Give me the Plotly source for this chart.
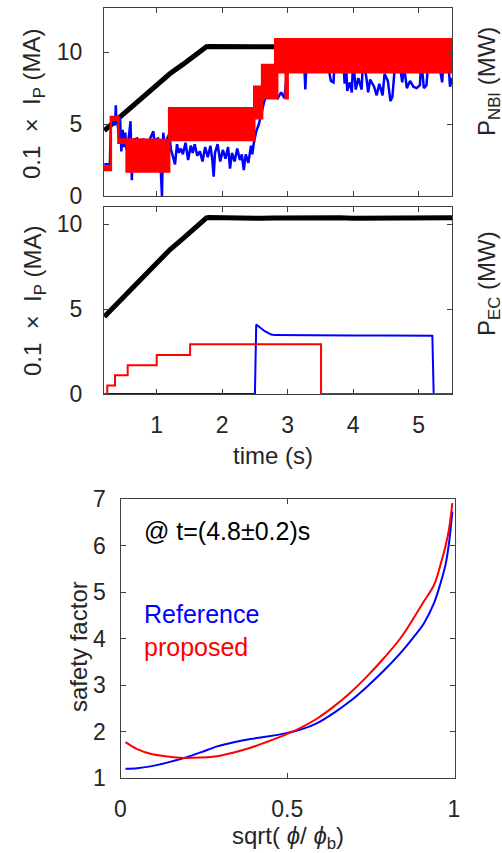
import plotly.graph_objects as go

W, H = 502, 853

# ---------------- data ----------------
# plasma current (0.1 x Ip in MA), shared by both time panels
ip_t = [0.2, 0.4, 0.6, 0.8, 1.0, 1.2, 1.4, 1.6, 1.76, 1.8, 2.0, 2.2, 2.4, 2.6, 2.8, 3.0,
        3.2, 3.4, 3.6, 3.8, 4.0, 4.2, 4.4, 4.6, 4.8, 5.0, 5.2, 5.4, 5.51]
ip_v = [4.55, 5.35, 6.15, 6.9, 7.8, 8.5, 9.15, 9.8, 10.38, 10.4, 10.38, 10.35, 10.33, 10.35,
        10.37, 10.38, 10.36, 10.38, 10.42, 10.38, 10.36, 10.37, 10.35, 10.36, 10.37, 10.36,
        10.40, 10.42, 10.38]

# NBI power, reference (blue)
nbi_ref_t = [0.20, 0.285, 0.30, 0.34, 0.365, 0.375, 0.385, 0.40, 0.42, 0.44, 0.46, 0.48, 0.50,
             0.52, 0.54, 0.57, 0.60, 0.61, 0.62, 0.64, 0.70, 0.75, 0.80, 0.85, 0.90, 0.95, 0.96,
             1.02, 1.06, 1.08, 1.10, 1.13, 1.16, 1.19, 1.22, 1.25, 1.28, 1.31, 1.34, 1.37, 1.40,
             1.44, 1.48, 1.52, 1.55, 1.58, 1.62, 1.66, 1.70, 1.74, 1.78, 1.82, 1.85, 1.87, 1.89,
             1.93, 1.97, 2.01, 2.05, 2.09, 2.12, 2.15, 2.19, 2.23, 2.27, 2.30, 2.33, 2.36, 2.40,
             2.44, 2.46, 2.48, 2.52, 2.56, 2.59, 2.62, 2.66, 2.72, 2.78, 2.81, 2.85, 2.90, 2.95,
             3.00, 3.05, 3.25, 3.27, 3.29, 3.60, 3.66, 3.70, 3.72, 3.85, 3.87, 3.89, 3.91, 3.95,
             3.98, 4.00, 4.04, 4.08, 4.13, 4.15, 4.20, 4.23, 4.26, 4.32, 4.36, 4.40, 4.45, 4.48,
             4.53, 4.57, 4.60, 4.63, 4.70, 4.75, 4.78, 4.82, 4.87, 4.92, 4.97, 5.02, 5.04, 5.08,
             5.12, 5.15, 5.30, 5.36, 5.38, 5.45, 5.48, 5.51]
nbi_ref_v = [2.2, 2.2, 4.9, 5.3, 4.9, 6.3, 5.0, 5.4, 4.0, 5.5, 3.1, 4.6, 3.4,
             4.4, 3.2, 3.9, 5.2, 2.0, 1.1, 3.9, 4.0, 3.0, 4.0, 2.5, 4.0, 4.5, 3.9,
             4.0, 2.0, 0.0, 4.4, 3.0, 4.0, 4.3, 3.2, 2.7, 2.2, 3.6, 3.0, 3.3, 2.9,
             3.7, 2.5, 3.5, 3.0, 3.6, 2.8, 3.1, 2.4, 3.4, 2.7, 3.5, 2.5, 1.35, 3.0,
             3.6, 2.4, 3.2, 2.6, 3.4, 1.9, 3.0, 2.4, 3.3, 2.5, 2.9, 1.8, 2.9, 2.3,
             3.5, 2.9, 3.6, 4.5, 5.0, 5.6, 6.3, 6.9, 7.0, 6.9, 7.0, 6.8, 7.2, 6.8,
             9.0, 9.5, 9.5, 7.4, 9.5, 9.5, 8.0, 7.9, 9.5, 9.5, 7.8, 9.5, 7.3, 7.9,
             7.2, 9.5, 7.4, 8.2, 7.4, 9.5, 8.3, 7.2, 8.1, 7.6, 7.0, 7.8, 7.0, 8.5,
             8.0, 6.6, 6.9, 8.6, 9.5, 7.9, 9.0, 7.5, 8.0, 7.6, 7.5, 7.7, 9.5, 7.5,
             7.7, 9.5, 9.5, 7.9, 9.5, 9.5, 7.6, 8.2]

# NBI power, proposed (red): fast modulation between a low and a high level
nbi_prop_edges = [0.195, 0.30, 0.415, 0.54, 1.19, 2.49, 2.61, 2.81, 2.84, 2.97, 3.00, 5.51]
nbi_prop_low = [1.8, 5.3, 3.7, 1.7, 3.9, 5.4, 6.8, 6.8, 8.6, 6.8, 8.6]
nbi_prop_high = [2.05, 5.5, 3.95, 3.9, 6.1, 7.6, 9.1, 10.9, 10.9, 10.9, 10.9]

# EC power
ec_ref_t = [0.2, 2.50, 2.52, 2.55, 2.60, 2.65, 2.70, 2.75, 2.80, 3.0, 3.5, 4.0, 4.5, 5.0, 5.21, 5.23, 5.51]
ec_ref_v = [0, 0, 4.1, 4.0, 3.85, 3.7, 3.6, 3.5, 3.47, 3.46, 3.47, 3.45, 3.45, 3.45, 3.44, 0, 0]
ec_prop_t = [0.2, 0.245, 0.363, 0.557, 1.0, 1.51, 3.51, 5.51]
ec_prop_v = [0, 0.5, 1.1, 1.7, 2.3, 2.93, 0, 0]

# safety factor profiles
rho = [0.015, 0.05, 0.09, 0.14, 0.19, 0.24, 0.29, 0.34, 0.39, 0.44, 0.50, 0.54, 0.59, 0.64, 0.69,
       0.74, 0.79, 0.84, 0.88, 0.91, 0.94, 0.96, 0.975, 0.985, 0.995]
q_ref = [1.2, 1.21, 1.25, 1.33, 1.43, 1.55, 1.68, 1.77, 1.84, 1.89, 1.97, 2.04, 2.18, 2.4, 2.66,
         2.97, 3.31, 3.69, 4.04, 4.33, 4.76, 5.2, 5.6, 6.05, 6.73]
q_prop = [1.77, 1.62, 1.52, 1.46, 1.43, 1.44, 1.47, 1.55, 1.65, 1.78, 1.95, 2.08, 2.28, 2.54, 2.84,
          3.19, 3.58, 4.01, 4.45, 4.8, 5.15, 5.6, 6.0, 6.35, 6.91]

# ---------------- figure ----------------
BLUE, RED, BLACK = "#0000FF", "#FF0000", "#000000"
AX = "#404040"
TXT = "#262626"
FONT = "Liberation Sans, Arial, Helvetica, sans-serif"

def px_x(p):
    return p / W

def px_y(p):
    return 1 - p / H

fig = go.Figure()

# top panel
fig.add_trace(go.Scatter(x=ip_t, y=ip_v, mode="lines", line=dict(color=BLACK, width=5),
                         xaxis="x", yaxis="y", showlegend=False))
fig.add_trace(go.Scatter(x=nbi_ref_t, y=nbi_ref_v, mode="lines", line=dict(color=BLUE, width=2.5),
                         xaxis="x", yaxis="y", showlegend=False))
px_, py_ = [], []
for i in range(len(nbi_prop_low)):
    px_ += [nbi_prop_edges[i], nbi_prop_edges[i + 1]]
    py_ += [nbi_prop_high[i], nbi_prop_high[i]]
for i in reversed(range(len(nbi_prop_low))):
    px_ += [nbi_prop_edges[i + 1], nbi_prop_edges[i]]
    py_ += [nbi_prop_low[i], nbi_prop_low[i]]
fig.add_trace(go.Scatter(x=px_, y=py_, mode="lines", fill="toself", fillcolor=RED,
                         line=dict(color=RED, width=2.5), xaxis="x", yaxis="y", showlegend=False))

# middle panel
fig.add_trace(go.Scatter(x=ip_t, y=ip_v, mode="lines", line=dict(color=BLACK, width=5),
                         xaxis="x2", yaxis="y2", showlegend=False))
fig.add_trace(go.Scatter(x=ec_ref_t, y=ec_ref_v, mode="lines", line=dict(color=BLUE, width=2),
                         xaxis="x2", yaxis="y2", showlegend=False))
fig.add_trace(go.Scatter(x=ec_prop_t, y=ec_prop_v, mode="lines", line=dict(color=RED, width=2, shape="hv"),
                         xaxis="x2", yaxis="y2", showlegend=False))

# bottom panel
fig.add_trace(go.Scatter(x=rho, y=q_ref, mode="lines", line=dict(color=BLUE, width=2, shape="spline"),
                         xaxis="x3", yaxis="y3", showlegend=False))
fig.add_trace(go.Scatter(x=rho, y=q_prop, mode="lines", line=dict(color=RED, width=2, shape="spline"),
                         xaxis="x3", yaxis="y3", showlegend=False))

common = dict(showline=True, linecolor=AX, linewidth=1, mirror="ticks", ticks="inside",
              ticklen=5, tickcolor=AX, showgrid=False, zeroline=False, automargin=False,
              tickfont=dict(family=FONT, size=23, color=TXT))

fig.update_layout(
    width=W, height=H, margin=dict(l=0, r=0, t=0, b=0, pad=0, autoexpand=False),
    paper_bgcolor="white", plot_bgcolor="white",
    xaxis=dict(domain=[px_x(104), px_x(452)], range=[0.195, 5.51], tickvals=[1, 2, 3, 4, 5],
               showticklabels=False, anchor="y", **common),
    yaxis=dict(domain=[px_y(196), px_y(8)], range=[0, 13.07], tickvals=[0, 5, 10],
               anchor="x", ticklabelstandoff=16, **common),
    xaxis2=dict(domain=[px_x(104), px_x(452)], range=[0.195, 5.51], tickvals=[1, 2, 3, 4, 5],
                anchor="y2", ticklabelstandoff=10, **common),
    yaxis2=dict(domain=[px_y(394), px_y(207)], range=[0, 11.02], tickvals=[0, 5, 10],
                anchor="x2", ticklabelstandoff=16, **common),
    xaxis3=dict(domain=[px_x(120.5), px_x(455)], range=[0, 1.003], tickvals=[0, 0.5, 1],
                ticktext=["0", "0.5", "1"], anchor="y3", ticklabelstandoff=10, **common),
    yaxis3=dict(domain=[px_y(778), px_y(499)], range=[1, 7], tickvals=[1, 2, 3, 4, 5, 6, 7],
                anchor="x3", ticklabelstandoff=9, **common),
)

def ann(text, x, y, size=24, color=TXT, angle=0, xanchor="center", yanchor="middle"):
    fig.add_annotation(text=text, x=px_x(x), y=px_y(y), xref="paper", yref="paper",
                       showarrow=False, textangle=angle, xanchor=xanchor, yanchor=yanchor,
                       font=dict(family=FONT, size=size, color=color))

NB = "\u00a0"
ip_label = "0.1" + NB + " ×" + NB + " I<sub>P</sub> (MA)"
ann(ip_label, 34, 104, angle=-90)
ann(ip_label, 34, 301, angle=-90)
ann("P<sub>NBI</sub> (MW)", 488, 82, angle=-90)
ann("P<sub>EC</sub> (MW)", 488, 284, angle=-90)
ann("time (s)", 273, 455)
ann("safety factor", 78, 647, angle=-90)
ann("sqrt( <i>ϕ</i>/ <i>ϕ</i><sub>b</sub>)", 288, 837)
ann("@ t=(4.8±0.2)s", 142, 531, size=25, color=BLACK, xanchor="left")
ann("Reference", 142, 614, size=25, color=BLUE, xanchor="left")
ann("proposed", 142, 647, size=25, color=RED, xanchor="left")

fig.write_html("out.html", config={"displayModeBar": False},
               post_script="document.body.style.margin='0';document.body.style.overflow='hidden';")
